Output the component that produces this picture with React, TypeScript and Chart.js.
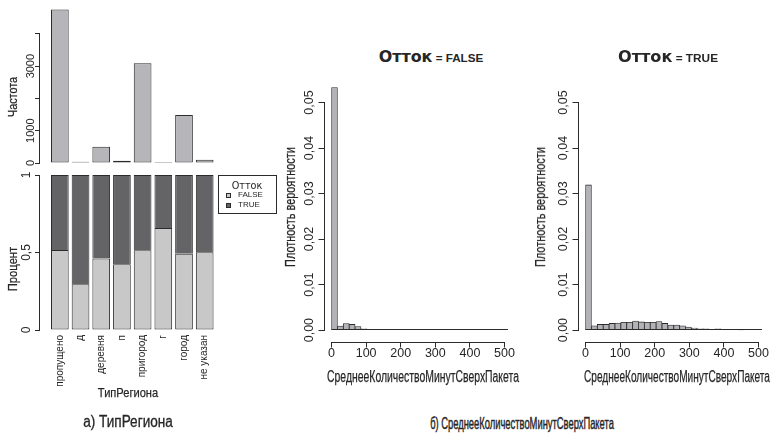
import React, { useEffect, useLayoutEffect, useRef, useState } from 'react';
import { Chart, registerables } from 'chart.js';

Chart.register(...registerables);

// ---------- data ----------
const regionTypes = ['пропущено', 'д', 'деревня', 'п', 'пригород', 'г', 'город', 'не указан'];
const regionCounts = [4750, 35, 500, 70, 3090, 30, 1490, 100];
const freqTicks = [0, 1000, 2000, 3000, 4000];
const freqTickLabels = ['0', '1000', '', '3000', ''];

const shareFalse = [0.516, 0.295, 0.462, 0.424, 0.514, 0.658, 0.492, 0.501];
const shareTrue = [0.484, 0.705, 0.538, 0.576, 0.486, 0.342, 0.508, 0.499];
const shareTicks = [0, 0.5, 1];
const shareTickLabels = ['0', '0,5', '1'];

const binEdges = [0, 17, 34, 51, 68, 85, 102, 119, 136, 153, 170, 187, 204, 221, 238, 255, 272, 289, 306, 323, 340, 357, 374, 391, 408, 425, 442, 459, 476, 493, 510];
const densityFalse = [0.0533, 0.00088, 0.00146, 0.00125, 0.0008, 0.0003, 0.00015, 0, 0, 0, 0, 0, 0, 0, 0, 0, 0, 0, 0, 0, 0, 0, 0, 0, 0, 0, 0, 0, 0, 0];
const densityTrue = [0.0319, 0.00095, 0.00125, 0.00125, 0.00147, 0.00154, 0.0017, 0.0017, 0.002, 0.0018, 0.0017, 0.0017, 0.0019, 0.00147, 0.0011, 0.0011, 0.00095, 0.00066, 0.00044, 0.0003, 0.0003, 0.0002, 0.0003, 0.00015, 0.0001, 0.0001, 0.00005, 0, 0, 0];
const histXTicks = [0, 100, 200, 300, 400, 500];
const histXTickLabels = ['0', '100', '200', '300', '400', '500'];
const histYTicks = [0, 0.01, 0.02, 0.03, 0.04, 0.05];
const histYTickLabels = ['0,00', '0,01', '0,02', '0,03', '0,04', '0,05'];

// ---------- styles ----------
const TEXT = '#262626';
const EDGE = '#2b2b2b';
const FREQ_FILL = '#b5b5ba';
const LIGHT = '#c8c8c8';
const DARK = '#646467';
const HIST_FILL = '#b3b3b7';
const SANS = "'Liberation Sans', Arial, Helvetica, sans-serif";
const NARROW = "'Liberation Sans Narrow', 'Liberation Sans', Arial, sans-serif";
const WIDE = "'DejaVu Sans', 'Liberation Sans', sans-serif";

const rAxisPlugin = {
  id: 'rAxis',
  afterDraw(chart: any, _args: any, opts: any) {
    const { ctx, chartArea, scales } = chart;
    ctx.save();
    ctx.strokeStyle = EDGE;
    ctx.lineWidth = 1;
    (opts.lines || []).forEach((ln: any) => {
      ctx.beginPath();
      if (ln.kind === 'y') {
        const x = Math.round(chartArea.left) - 0.5;
        ctx.moveTo(x, scales.y.getPixelForValue(ln.from));
        ctx.lineTo(x, scales.y.getPixelForValue(ln.to));
      } else if (ln.kind === 'x') {
        const y = Math.round(chartArea.bottom) + 0.5;
        ctx.moveTo(scales.x.getPixelForValue(ln.from), y);
        ctx.lineTo(scales.x.getPixelForValue(ln.to), y);
      } else {
        const y = Math.round(scales.y.getPixelForValue(ln.at)) - 0.5;
        ctx.moveTo(scales.x.getPixelForValue(ln.from), y);
        ctx.lineTo(scales.x.getPixelForValue(ln.to), y);
      }
      ctx.stroke();
    });
    ctx.restore();
  },
};

function yAxis(opts: any) {
  return {
    min: opts.min,
    max: opts.max,
    stacked: opts.stacked || false,
    afterBuildTicks: (s: any) => { s.ticks = opts.ticks.map((v: number) => ({ value: v })); },
    afterFit: (s: any) => { s.width = opts.width; },
    grid: { drawOnChartArea: false, drawTicks: true, tickLength: opts.tickLength, color: EDGE, lineWidth: 1 },
    border: { display: false },
    ticks: {
      minRotation: 90,
      maxRotation: 90,
      crossAlign: 'center',
      padding: opts.padding,
      autoSkip: false,
      color: TEXT,
      font: { family: SANS, size: opts.fontSize },
      callback: (_v: any, i: number) => opts.labels[i],
    },
  };
}

const baseOptions = (padding: any) => ({
  responsive: false,
  animation: false,
  events: [],
  layout: { padding },
});

function configFreq(): any {
  return {
    type: 'bar',
    data: {
      datasets: [{
        data: regionCounts.map((v, i) => ({ x: i, y: v })),
        backgroundColor: FREQ_FILL, borderColor: EDGE, borderWidth: 1, borderSkipped: false,
        barPercentage: 0.855, categoryPercentage: 1,
      }],
    },
    options: {
      ...baseOptions({ left: 0, top: 8, right: 8, bottom: 7 }),
      plugins: { legend: { display: false }, tooltip: { enabled: false }, rAxis: { lines: [{ kind: 'y', from: 0, to: 4000 }] } },
      scales: {
        x: { type: 'linear', display: false, min: -0.959, max: 7.546, offset: false },
        y: yAxis({ min: 0, max: 4800, ticks: freqTicks, labels: freqTickLabels, width: 40, tickLength: 5, padding: -8.5, fontSize: 11 }),
      },
    },
    plugins: [rAxisPlugin],
  };
}

function configShare(): any {
  return {
    type: 'bar',
    data: {
      datasets: [
        {
          label: 'FALSE', data: shareFalse.map((v, i) => ({ x: i, y: v })),
          backgroundColor: LIGHT, borderColor: EDGE, borderWidth: 1, borderSkipped: false,
          barPercentage: 0.855, categoryPercentage: 1,
        },
        {
          label: 'TRUE', data: shareTrue.map((v, i) => ({ x: i, y: v })),
          backgroundColor: DARK, borderColor: EDGE, borderWidth: 1, borderSkipped: 'start',
          barPercentage: 0.855, categoryPercentage: 1,
        },
      ],
    },
    options: {
      ...baseOptions({ left: 0, top: 10, right: 8, bottom: 0 }),
      plugins: { legend: { display: false }, tooltip: { enabled: false }, rAxis: { lines: [{ kind: 'y', from: 0, to: 1 }] } },
      scales: {
        x: {
          type: 'linear', stacked: true, min: -0.959, max: 7.546, offset: false,
          afterBuildTicks: (s: any) => { s.ticks = regionTypes.map((_, i) => ({ value: i })); },
          afterFit: (s: any) => { s.height = 67; },
          grid: { display: false, drawTicks: false },
          border: { display: false },
          ticks: {
            minRotation: 90, maxRotation: 90, autoSkip: false, padding: 5, color: TEXT,
            font: { family: SANS, size: 10 },
            callback: (_v: any, i: number) => regionTypes[i],
          },
        },
        y: yAxis({ min: 0, max: 1, stacked: true, ticks: shareTicks, labels: shareTickLabels, width: 40, tickLength: 5, padding: 0, fontSize: 12 }),
      },
    },
    plugins: [rAxisPlugin],
  };
}

function configHist(values: number[]): any {
  return {
    type: 'bar',
    data: {
      datasets: [{
        data: values.map((v, i) => ({ x: (binEdges[i] + binEdges[i + 1]) / 2, y: v })),
        backgroundColor: HIST_FILL, borderColor: EDGE, borderWidth: 0.8, borderSkipped: false,
        barPercentage: 1, categoryPercentage: 1,
      }],
    },
    options: {
      ...baseOptions({ left: 0, top: 7.5, right: 10, bottom: 0 }),
      plugins: {
        legend: { display: false }, tooltip: { enabled: false },
        rAxis: {
          lines: [
            { kind: 'y', from: 0, to: 0.05 },
            { kind: 'x', from: 0, to: 500 },
            { kind: 'h', at: 0, from: binEdges[0], to: binEdges[binEdges.length - 1] },
          ],
        },
      },
      scales: {
        x: {
          type: 'linear', min: -20.4, max: 530.4, offset: false,
          afterBuildTicks: (s: any) => { s.ticks = histXTicks.map((v) => ({ value: v })); },
          afterFit: (s: any) => { s.height = 28.5; },
          grid: { drawOnChartArea: false, drawTicks: true, tickLength: 6, color: EDGE, lineWidth: 1, offset: false },
          border: { display: false },
          ticks: {
            maxRotation: 0, minRotation: 0, autoSkip: false, padding: -1, color: TEXT,
            font: { family: SANS, size: 12.5 },
            callback: (_v: any, i: number) => histXTickLabels[i],
          },
        },
        y: yAxis({ min: -0.0025, max: 0.0555, ticks: histYTicks, labels: histYTickLabels, width: 54.5, tickLength: 6, padding: -3.2, fontSize: 12.5 }),
      },
    },
    plugins: [rAxisPlugin],
  };
}

function ChartBox({ left, top, width, height, make }: { left: number; top: number; width: number; height: number; make: () => any }) {
  const ref = useRef<HTMLCanvasElement>(null);
  useEffect(() => {
    if (!ref.current) return;
    const chart = new Chart(ref.current, make());
    return () => chart.destroy();
  }, []);
  return (
    <canvas ref={ref} width={width} height={height}
      style={{ position: 'absolute', left, top, width, height }} />
  );
}

function FitText({ cx, cy, w, rot = 0, style, children }: { cx: number; cy: number; w: number; rot?: number; style?: React.CSSProperties; children: React.ReactNode }) {
  const ref = useRef<HTMLDivElement>(null);
  const [sx, setSx] = useState(1);
  useLayoutEffect(() => {
    const measure = () => {
      const el = ref.current;
      if (el && el.offsetWidth) setSx(w / el.offsetWidth);
    };
    measure();
    const fonts = (document as any).fonts;
    if (fonts && fonts.ready) fonts.ready.then(measure);
  }, [w]);
  return (
    <div ref={ref} style={{
      position: 'absolute', left: cx, top: cy, whiteSpace: 'nowrap', lineHeight: 1, color: TEXT,
      transformOrigin: '0 0', transform: `rotate(${rot}deg) scaleX(${sx}) translate(-50%, -50%)`, ...style,
    }}>{children}</div>
  );
}

export default function App() {
  const narrow = (size: number, stroke = 0.25): React.CSSProperties => ({
    fontFamily: NARROW, fontSize: size, WebkitTextStroke: `${stroke}px ${TEXT}`,
  } as React.CSSProperties);
  return (
    <div style={{ position: 'fixed', left: 0, top: 0, width: 770, height: 435, background: '#fff', overflow: 'hidden' }}>
      <ChartBox left={0} top={0} width={224} height={170} make={configFreq} />
      <ChartBox left={0} top={165} width={224} height={232} make={configShare} />
      <ChartBox left={270} top={70} width={255} height={300} make={() => configHist(densityFalse)} />
      <ChartBox left={524} top={70} width={255} height={300} make={() => configHist(densityTrue)} />

      {/* left panel titles */}
      <FitText cx={13} cy={97} w={40} rot={-90} style={narrow(13.5)}>Частота</FitText>
      <FitText cx={12.5} cy={269} w={44} rot={-90} style={narrow(13.5)}>Процент</FitText>
      <FitText cx={128} cy={393} w={60} style={narrow(13.5)}>ТипРегиона</FitText>

      {/* legend */}
      <div style={{ position: 'absolute', left: 217.5, top: 175, width: 59.5, height: 39, border: `1px solid ${EDGE}`, boxSizing: 'border-box' }} />
      <FitText cx={247} cy={185.5} w={31} style={{ fontFamily: WIDE, fontSize: 10 }}>Отток</FitText>
      <div style={{ position: 'absolute', left: 226, top: 192.5, width: 5, height: 5, border: `1px solid ${EDGE}`, background: LIGHT, boxSizing: 'border-box' }} />
      <FitText cx={250.5} cy={194.5} w={25} style={{ fontFamily: SANS, fontSize: 8 }}>FALSE</FitText>
      <div style={{ position: 'absolute', left: 226, top: 202.5, width: 5, height: 5, border: `1px solid ${EDGE}`, background: DARK, boxSizing: 'border-box' }} />
      <FitText cx={249} cy={204.5} w={22} style={{ fontFamily: SANS, fontSize: 8 }}>TRUE</FitText>

      {/* histogram titles */}
      <FitText cx={430.5} cy={57} w={105} style={{ fontSize: 15 }}>
        <span style={{ fontFamily: WIDE, fontWeight: 'bold', fontSize: 15 }}>Отток</span>
        <span style={{ fontFamily: SANS, fontWeight: 'bold', fontSize: 11 }}> = FALSE</span>
      </FitText>
      <FitText cx={668} cy={57} w={100} style={{ fontSize: 15 }}>
        <span style={{ fontFamily: WIDE, fontWeight: 'bold', fontSize: 15 }}>Отток</span>
        <span style={{ fontFamily: SANS, fontWeight: 'bold', fontSize: 11 }}> = TRUE</span>
      </FitText>
      <FitText cx={290} cy={207} w={120} rot={-90} style={narrow(14)}>Плотность вероятности</FitText>
      <FitText cx={540} cy={207} w={120} rot={-90} style={narrow(14)}>Плотность вероятности</FitText>
      <FitText cx={423} cy={377} w={192} style={narrow(16)}>СреднееКоличествоМинутСверхПакета</FitText>
      <FitText cx={677} cy={377} w={186} style={narrow(16)}>СреднееКоличествоМинутСверхПакета</FitText>

      {/* captions */}
      <FitText cx={128} cy={422} w={90} style={narrow(16, 0.3)}>а) ТипРегиона</FitText>
      <FitText cx={521.5} cy={423} w={184} style={narrow(16.5, 0.45)}>б) СреднееКоличествоМинутСверхПакета</FitText>
    </div>
  );
}
